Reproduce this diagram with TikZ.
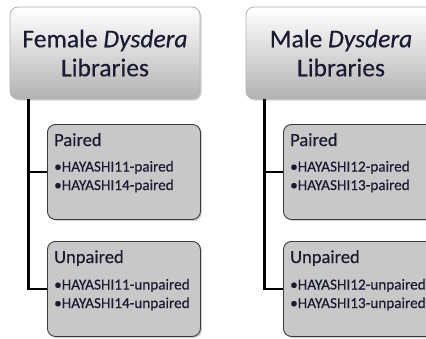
\documentclass[tikz,border=0pt]{standalone}
\usepackage{fontspec}
\setmainfont{Carlito}[FakeBold=0.4]
\usetikzlibrary{shadows}
\definecolor{txt}{HTML}{1A1A33}
\definecolor{childfill}{HTML}{C8C8C8}
\definecolor{childline}{HTML}{3A3A3A}
\tikzset{
  titlebox/.style={draw=gray!60, line width=0.8pt, rounded corners=8pt,
    top color=white, bottom color=black!30, minimum width=190pt, minimum height=92pt,
    align=center, text=txt, font=\fontsize{25.5}{29}\selectfont,
    drop shadow={shadow xshift=1.5pt, shadow yshift=-1.5pt, opacity=0.35}},
  childbox/.style={draw=childline, line width=0.9pt, rounded corners=8pt, fill=childfill,
    minimum width=153pt, minimum height=95pt, anchor=north west, inner sep=0pt,
    drop shadow={shadow xshift=1.5pt, shadow yshift=-1.5pt, opacity=0.35}},
  headtext/.style={anchor=base west, inner sep=0pt, text=txt, font=\fontsize{18.5}{20}\selectfont},
  itemtext/.style={anchor=base west, inner sep=0pt, text=txt, font=\fontsize{15.2}{18}\selectfont},
  conn/.style={draw=black, line width=2.4pt},
}
\begin{document}
\begin{tikzpicture}[x=1pt,y=-1pt]
\useasboundingbox (0,0) rectangle (426,338);
\clip (0,0) rectangle (426,338);
\fill[white] (0,0) rectangle (426,338);

% Female column
\node[titlebox] (ft) at (105,53) {Female \textit{Dysdera}\\Libraries};
\node[childbox] (fp) at (47,124) {};
\node[childbox] (fu) at (47,241) {};
\draw[conn] ([xshift=19pt]ft.south west) |- (fp.west);
\draw[conn] ([xshift=19pt]ft.south west) |- (fu.west);
\node[headtext] (fph) at ([xshift=7pt,yshift=-22pt]fp.north west) {Paired};
\node[itemtext] (fp1) at ([xshift=7pt,yshift=-47.5pt]fp.north west) {•HAYASHI11-paired};
\node[itemtext] (fp2) at ([xshift=7pt,yshift=-66pt]fp.north west) {•HAYASHI14-paired};
\node[headtext] (fuh) at ([xshift=7pt,yshift=-22pt]fu.north west) {Unpaired};
\node[itemtext] (fu1) at ([xshift=7pt,yshift=-48.5pt]fu.north west) {•HAYASHI11-unpaired};
\node[itemtext] (fu2) at ([xshift=7pt,yshift=-67pt]fu.north west) {•HAYASHI14-unpaired};

% Male column
\node[titlebox] (mt) at (341,53) {Male \textit{Dysdera}\\Libraries};
\node[childbox] (mp) at (283,124) {};
\node[childbox] (mu) at (283,241) {};
\draw[conn] ([xshift=19pt]mt.south west) |- (mp.west);
\draw[conn] ([xshift=19pt]mt.south west) |- (mu.west);
\node[headtext] (mph) at ([xshift=7pt,yshift=-22pt]mp.north west) {Paired};
\node[itemtext] (mp1) at ([xshift=7pt,yshift=-47.5pt]mp.north west) {•HAYASHI12-paired};
\node[itemtext] (mp2) at ([xshift=7pt,yshift=-66pt]mp.north west) {•HAYASHI13-paired};
\node[headtext] (muh) at ([xshift=7pt,yshift=-22pt]mu.north west) {Unpaired};
\node[itemtext] (mu1) at ([xshift=7pt,yshift=-48.5pt]mu.north west) {•HAYASHI12-unpaired};
\node[itemtext] (mu2) at ([xshift=7pt,yshift=-67pt]mu.north west) {•HAYASHI13-unpaired};
\end{tikzpicture}
\end{document}
